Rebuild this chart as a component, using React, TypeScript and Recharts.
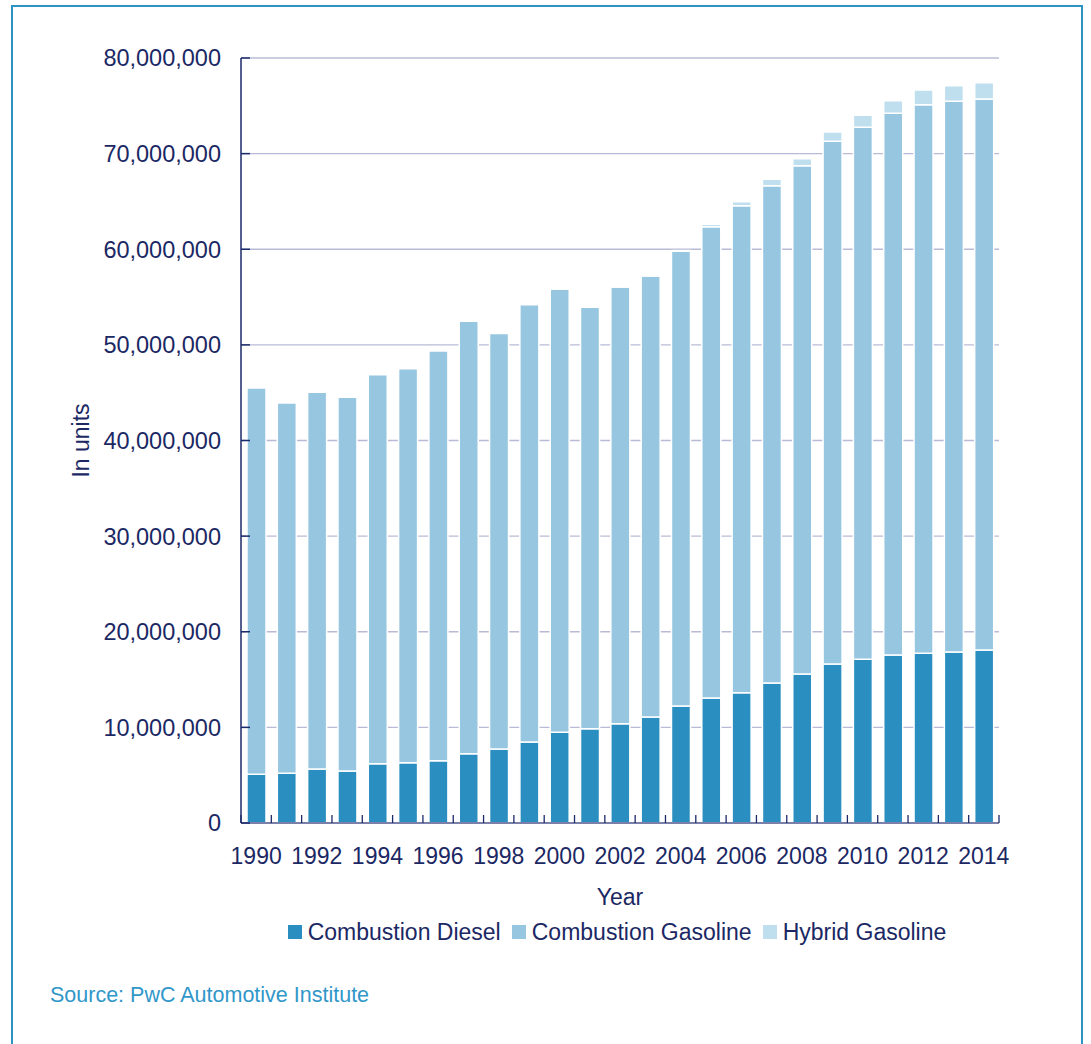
import React from 'react';
import { BarChart, Bar, XAxis, YAxis, CartesianGrid, Legend } from 'recharts';

const YEARS = ['1990','1991','1992','1993','1994','1995','1996','1997','1998','1999','2000','2001','2002','2003','2004','2005','2006','2007','2008','2009','2010','2011','2012','2013','2014'];
// values in millions of units
const DIESEL_M = [5.09, 5.2, 5.65, 5.44, 6.2, 6.3, 6.5, 7.25, 7.74, 8.47, 9.48, 9.86, 10.39, 11.09, 12.24, 13.07, 13.63, 14.64, 15.58, 16.63, 17.12, 17.57, 17.75, 17.88, 18.09];
const GASOLINE_M = [40.4, 38.72, 39.39, 39.08, 40.68, 41.21, 42.86, 45.22, 43.46, 45.73, 46.37, 44.07, 45.66, 46.11, 47.55, 49.29, 50.93, 52.01, 53.16, 54.66, 55.64, 56.65, 57.37, 57.59, 57.63];
const HYBRID_M = [0, 0, 0, 0, 0, 0, 0, 0, 0, 0, 0.02, 0.03, 0.05, 0.05, 0.08, 0.26, 0.42, 0.68, 0.73, 0.97, 1.26, 1.32, 1.53, 1.64, 1.7];
const Y_TICKS = [0, 10000000, 20000000, 30000000, 40000000, 50000000, 60000000, 70000000, 80000000];
const SERIES = [
  { key: 'diesel', name: 'Combustion Diesel', color: '#2a8fc0' },
  { key: 'gasoline', name: 'Combustion Gasoline', color: '#96c6e0' },
  { key: 'hybrid', name: 'Hybrid Gasoline', color: '#c0dfee' },
];

const data = YEARS.map((year, i) => ({
  year,
  diesel: DIESEL_M[i] * 1e6,
  gasoline: GASOLINE_M[i] * 1e6,
  hybrid: HYBRID_M[i] * 1e6,
}));

const W = 1091;
const H = 1044;
const M_LEFT = 241;
const M_RIGHT = 92;
const M_TOP = 58;
const X_H = 85;
const M_BOTTOM = H - 823 - X_H;
const BAND = (W - M_LEFT - M_RIGHT) / YEARS.length;

const FONT = '"Liberation Sans", Arial, Helvetica, sans-serif';
const TEXT = '#1b2864';
const NAVY = '#1b2a6b';

const fmt = (v: number) => v.toLocaleString('en-US');

function YTick(props: any) {
  const { x, y, payload } = props;
  return (
    <g>
      <line x1={x + 20} x2={x + 29} y1={y} y2={y} stroke={NAVY} strokeWidth={1.5} />
      <text x={x} y={y} dy="0.36em" textAnchor="end" fill={TEXT} fontSize={23.5} fontFamily={FONT}>
        {fmt(payload.value)}
      </text>
    </g>
  );
}

function XTick(props: any) {
  const { x, y, payload, index } = props;
  const axisY = y - 25;
  const left = x - BAND / 2;
  const right = x + BAND / 2;
  return (
    <g>
      <line x1={left} x2={left} y1={axisY} y2={axisY - 8} stroke={NAVY} strokeWidth={1.3} />
      {index === YEARS.length - 1 && (
        <line x1={right} x2={right} y1={axisY} y2={axisY - 8} stroke={NAVY} strokeWidth={1.3} />
      )}
      {index % 2 === 0 && (
        <text x={x} y={y} dy="0.71em" textAnchor="middle" fill={TEXT} fontSize={23} fontFamily={FONT}>
          {payload.value}
        </text>
      )}
    </g>
  );
}

function LegendContent() {
  return (
    <div style={{ display: 'flex', justifyContent: 'center', alignItems: 'center', fontFamily: FONT, fontSize: 23, lineHeight: '24px', color: TEXT, whiteSpace: 'nowrap' }}>
      {SERIES.map((s, i) => (
        <div key={s.key} style={{ display: 'flex', alignItems: 'center', marginLeft: i === 0 ? 0 : 11 }}>
          <span style={{ display: 'inline-block', width: 14, height: 14, background: s.color, marginRight: 6 }} />
          <span>{s.name}</span>
        </div>
      ))}
    </div>
  );
}

export default function App() {
  return (
    <div style={{ position: 'absolute', left: 0, top: 0, width: W, height: H, overflow: 'hidden', background: '#fff', fontFamily: FONT }}>
      <div style={{ position: 'absolute', left: 11, top: 5, width: 1072, height: 1100, boxSizing: 'border-box', borderTop: '2px solid #2c93c3', borderLeft: '2px solid #2c93c3', borderRight: '2px solid #2c93c3' }} />
      <div style={{ position: 'absolute', left: 0, top: 0 }}>
        <BarChart
          width={W}
          height={H}
          data={data}
          margin={{ top: M_TOP, right: M_RIGHT, left: 0, bottom: M_BOTTOM }}
          barSize={19}
        >
          <CartesianGrid vertical={false} stroke="#b9bbd6" strokeWidth={1.3} />
          <XAxis
            dataKey="year"
            interval={0}
            height={X_H}
            tickLine={false}
            tickSize={0}
            tickMargin={25}
            tick={<XTick />}
            axisLine={{ stroke: '#7b80aa', strokeWidth: 2 }}
            label={{ value: 'Year', position: 'insideBottom', offset: 3, fill: TEXT, fontSize: 23, fontFamily: FONT }}
          />
          <YAxis
            width={M_LEFT}
            domain={[0, 80000000]}
            ticks={Y_TICKS}
            interval={0}
            tickLine={false}
            tickSize={0}
            tickMargin={20}
            tick={<YTick />}
            axisLine={{ stroke: NAVY, strokeWidth: 1.5 }}
            label={{ value: 'In units', angle: -90, position: 'insideLeft', offset: 81, fill: TEXT, fontSize: 23, fontFamily: FONT, style: { textAnchor: 'middle' } }}
          />
          <Legend
            layout="horizontal"
            verticalAlign="middle"
            align="center"
            wrapperStyle={{ top: 920, left: 241, width: 752 }}
            content={<LegendContent />}
          />
          {SERIES.map((s) => (
            <Bar key={s.key} dataKey={s.key} name={s.name} stackId="a" fill={s.color} stroke="#ffffff" strokeWidth={1.5} isAnimationActive={false} />
          ))}
        </BarChart>
      </div>
      <div style={{ position: 'absolute', left: 50, top: 985, fontSize: 21.5, lineHeight: 1, color: '#3197c9', fontFamily: FONT, whiteSpace: 'nowrap' }}>
        Source: PwC Automotive Institute
      </div>
    </div>
  );
}
